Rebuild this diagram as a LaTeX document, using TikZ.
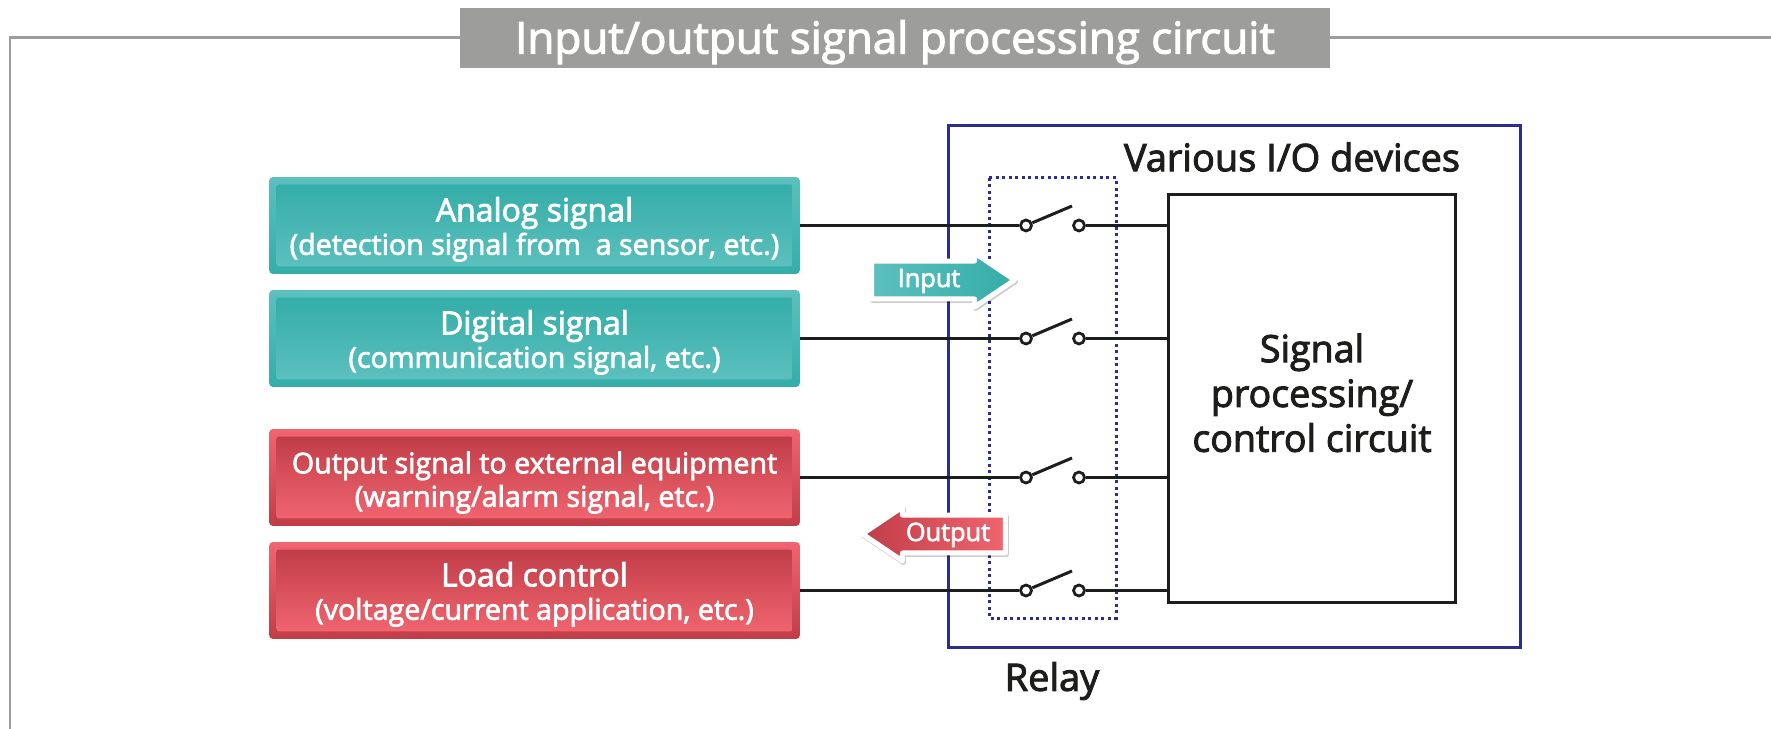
\documentclass[tikz,border=0pt]{standalone}
\usepackage{fontspec}
\setmainfont{Open Sans}[FakeBold=2.5]
\usetikzlibrary{shapes.arrows,shadows}
\definecolor{tealdark}{HTML}{34ADA8}
\definecolor{teallight}{HTML}{5CC0BE}
\definecolor{reddark}{HTML}{C03D47}
\definecolor{redlight}{HTML}{F0656F}
\definecolor{framegray}{HTML}{9D9D9C}
\definecolor{relayblue}{HTML}{2B2E8C}
\definecolor{wirecol}{HTML}{1D1D1B}
\newcommand{\headsize}{\fontsize{18.2pt}{19pt}\selectfont}
\tikzset{
  signalbox/.style={minimum width=10.62cm,minimum height=1.94cm,inner sep=0pt,rounded corners=.08cm},
  signaltext/.style={minimum width=10.32cm,minimum height=1.64cm,inner sep=0pt,rounded corners=.05cm,
    text=white,align=center,text height=1.17cm,text depth=0pt,font=\fontsize{16.3pt}{19pt}\selectfont},
  tealbox/.style={signalbox,top color=teallight,bottom color=tealdark},
  tealtext/.style={signaltext,top color=tealdark,bottom color=teallight},
  redbox/.style={signalbox,top color=redlight,bottom color=reddark},
  redtext/.style={signaltext,top color=reddark,bottom color=redlight},
  wire/.style={draw=wirecol,line width=.06cm},
  contact/.style={circle,draw=wirecol,line width=.055cm,fill=white,minimum size=.22cm,inner sep=0pt},
  flowarrow/.style={shape=single arrow,single arrow head extend=.16cm,single arrow tip angle=68,
    single arrow head indent=0cm,minimum height=2.86cm,inner ysep=.17cm,inner xsep=0pt,outer sep=0pt,
    draw=white,line width=.1cm,line join=round,text=white,font=\fontsize{14.4pt}{16pt}\selectfont,
    text height=.3cm,text depth=.02cm,
    drop shadow={shadow xshift=.02cm,shadow yshift=-.03cm,opacity=.2,draw=black,line width=.1cm,line join=round}},
  heading/.style={text=wirecol,font=\fontsize{21.6pt}{25.5pt}\selectfont,align=center,inner sep=0pt}
}
\begin{document}
\begin{tikzpicture}[x=.02cm,y=-.02cm]
\useasboundingbox [fill=white] (0,0) rectangle (1771,729);
% frame and title
\coordinate (framebl) at (10,729);
\coordinate (frametr) at (1771,38);
\node (title) at (895,38) [fill=framegray,text=white,minimum width=17.4cm,minimum height=1.2cm,inner sep=0pt,
  text height=.62cm,text depth=0pt,font=\fontsize{25pt}{27pt}\selectfont] {Input/output signal processing circuit};
\draw [framegray,line width=.06cm] (title.west) -- (framebl |- title.west) -- (framebl);
\draw [framegray,line width=.06cm] (title.east) -- (frametr);
% device and relay outlines
\draw [relayblue,line width=.06cm] (948,126) rectangle (1520,647);
\draw [relayblue,line width=.06cm,dash pattern=on .06cm off .07cm] (989,178) rectangle (1116,618);
\node (devices) at (1292,157) [heading] {Various I/O devices};
\node (relay) at (1052,681) [heading] {Relay};
\node (circuit) at (1312,398.5) [draw=wirecol,line width=.06cm,minimum width=5.76cm,minimum height=8.18cm,inner sep=0pt,
  text=wirecol,align=center,text height=2.13cm,text depth=0pt,font=\fontsize{21.4pt}{25.5pt}\selectfont] {Signal\\processing/\\control circuit};
% signal boxes
\node (analog) at (534.5,225.5) [tealbox] {};
\node (analogtext) at (analog) [tealtext] {{\headsize Analog signal}\\(detection signal from\ \ a sensor, etc.)};
\node (digital) at (534.5,338.5) [tealbox] {};
\node (digitaltext) at (digital) [tealtext] {{\headsize Digital signal}\\(communication signal, etc.)};
\node (external) at (534.5,477.5) [redbox] {};
\node (externaltext) at (external) [redtext] {Output signal to external equipment\\(warning/alarm signal, etc.)};
\node (load) at (534.5,590.5) [redbox] {};
\node (loadtext) at (load) [redtext] {{\headsize Load control}\\(voltage/current application, etc.)};
% relay contacts
\node (aleft) at (1026,225.5) [contact] {};
\node (aright) at (1079,225.5) [contact] {};
\node (dleft) at (1026,338.5) [contact] {};
\node (dright) at (1079,338.5) [contact] {};
\node (eleft) at (1026,477.5) [contact] {};
\node (eright) at (1079,477.5) [contact] {};
\node (lleft) at (1026,590.5) [contact] {};
\node (lright) at (1079,590.5) [contact] {};
\coordinate (atip) at (1072,206);
\coordinate (dtip) at (1072,319);
\coordinate (etip) at (1072,458);
\coordinate (ltip) at (1072,571);
% wires
\draw [wire] (analog.east) -- (aleft);
\draw [wire] (digital.east) -- (dleft);
\draw [wire] (external.east) -- (eleft);
\draw [wire] (load.east) -- (lleft);
\draw [wire] (aright) -- (aright -| circuit.west);
\draw [wire] (dright) -- (dright -| circuit.west);
\draw [wire] (eright) -- (eright -| circuit.west);
\draw [wire] (lright) -- (lright -| circuit.west);
\draw [wire] (aleft) -- (atip);
\draw [wire] (dleft) -- (dtip);
\draw [wire] (eleft) -- (etip);
\draw [wire] (lleft) -- (ltip);
% flow arrows
\node (input) at (929,280) [flowarrow,left color=teallight,right color=tealdark] {Input};
\node (output) at (948,534) [flowarrow,shape border rotate=180,left color=reddark,right color=redlight] {Output};
\end{tikzpicture}
\end{document}
